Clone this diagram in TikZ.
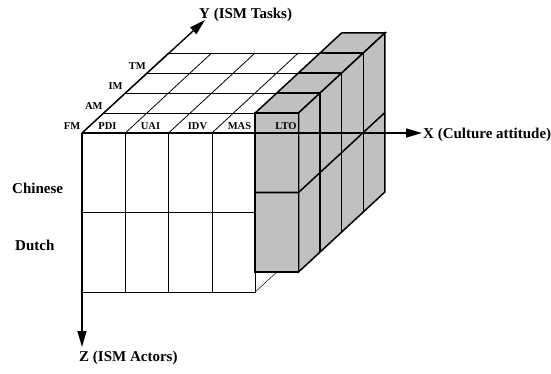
\documentclass[tikz,border=0pt]{standalone}
\usepackage{fontspec}
\setmainfont{Liberation Serif}
\usetikzlibrary{arrows.meta, positioning}
\definecolor{cellgray}{RGB}{192,192,192}
\tikzset{
  gridline/.style={draw=black, line width=0.8pt},
  blockline/.style={draw=black, line width=1.5pt},
  axisline/.style={line width=1.4pt, -{Triangle[length=16pt, width=9pt]}},
  smalllabel/.style={font=\fontsize{10.5}{12}\selectfont\bfseries, inner sep=0pt},
  axislabel/.style={font=\fontsize{15}{17}\selectfont\bfseries, inner sep=0pt},
}

\begin{document}
\begin{tikzpicture}[x=1pt, y=-1pt]
  \useasboundingbox (0,0) rectangle (551,374);
  % cell width and depth step
  \def\cw{43.3} \def\dx{21.6} \def\dy{20}
  \coordinate (O) at (82,133);
  \coordinate (xtip) at (422,133);
  \coordinate (ytip) at (205,20);
  \coordinate (ztip) at (82,347);

  % top face grid
  \foreach \k in {0,...,4}
    \draw[gridline] ({82+\k*\dx},{133-\k*\dy}) -- ({82+5*\cw+\k*\dx},{133-\k*\dy});
  \foreach \i in {0,...,5}
    \draw[gridline] ({82+\i*\cw},133) -- ({82+\i*\cw+4*\dx},{133-4*\dy});

  % front face
  \draw[gridline, fill=white] (O) rectangle ({82+4*\cw},292);
  \foreach \i in {1,2,3}
    \draw[gridline] ({82+\i*\cw},133) -- ({82+\i*\cw},292);
  \draw[gridline] (82,212.5) -- ({82+4*\cw},212.5);
  \draw[line width=0.5pt] ({82+4*\cw},292) -- ++(\dx,-\dy);

  % raised gray block
  \coordinate (G) at ({82+4*\cw},113);
  \filldraw[blockline, fill=cellgray] (G) -- ++(\cw,0) -- ++({4*\dx},{-4*\dy})
    -- ++(-\cw,0) -- cycle;
  \filldraw[blockline, fill=cellgray] ({82+5*\cw},113) -- ++({4*\dx},{-4*\dy})
    -- ++(0,159) -- ++({-4*\dx},{4*\dy}) -- cycle;
  \filldraw[blockline, fill=cellgray] (G) rectangle ++(\cw,159);
  \foreach \k in {1,2,3}
    \draw[blockline] ({82+4*\cw+\k*\dx},{113-\k*\dy}) -- ++(\cw,0) -- ++(0,159);
  \draw[blockline] ({82+4*\cw},192.5) -- ++(\cw,0) -- ++({4*\dx},{-4*\dy});

  % axes
  \draw[axisline] (O) -- (xtip);
  \draw[axisline] (O) -- (ytip);
  \draw[axisline] (O) -- (ztip);
  \node[axislabel, anchor=base west] (xlab) at (423,138.3) {X (Culture attitude)};
  \node[axislabel, anchor=base west] (ylab) at (199,18.5) {Y (ISM Tasks)};
  \node[axislabel, anchor=base west] (zlab) at (79,361) {Z (ISM Actors)};

  % labels
  \foreach \lab [count=\k from 0] in {FM,AM,IM,TM}
    \node[smalllabel, anchor=base] (row\lab) at ({72+\k*21.8},{129.5-\k*20}) {\lab};
  \foreach \lab/\xc in {PDI/107.5, UAI/150.5, IDV/197.5, MAS/239.5, LTO/286}
    \node[smalllabel, anchor=base] (col\lab) at (\xc,129.5) {\lab};
  \node[axislabel, anchor=base west] (chinese) at (12,193.3) {Chinese};
  \node[axislabel, anchor=base west] (dutch) at (15,250.7) {Dutch};
\end{tikzpicture}
\end{document}
